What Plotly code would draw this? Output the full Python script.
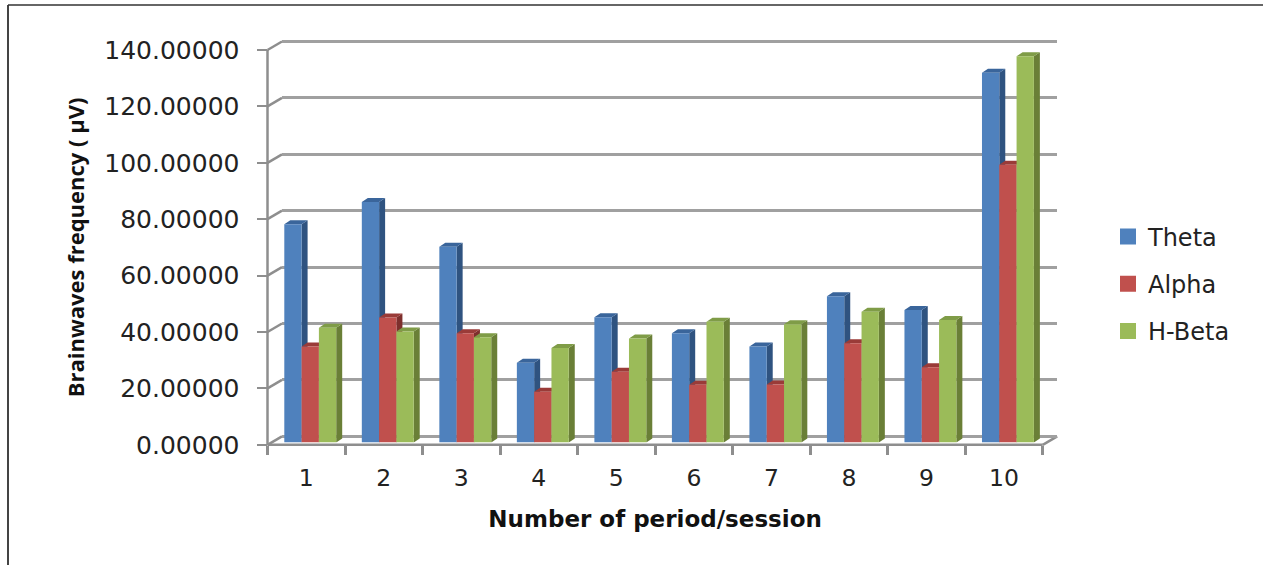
import plotly.graph_objects as go

W, H = 1263, 565
sessions = [1, 2, 3, 4, 5, 6, 7, 8, 9, 10]
theta = [77.4, 85.3, 69.4, 28.3, 44.4, 38.7, 34.0, 51.9, 47.0, 131.1]
alpha = [34.0, 44.3, 38.7, 18.0, 25.1, 20.5, 20.6, 35.2, 26.7, 98.5]
h_beta = [40.7, 39.4, 37.3, 33.5, 36.9, 42.8, 41.9, 46.4, 43.4, 137.0]
y_ticks = [0, 20, 40, 60, 80, 100, 120, 140]

# pixel geometry of the faux-3D box
XL, XR = 267.5, 1042.7      # front plane
Y0, Y140 = 444.8, 50.0
CAT = (XR - XL) / 10
UNIT = (Y0 - Y140) / 140
BAR_DX, BAR_DY = 3.0, 2.3   # bar plane behind front plane
BACK_DX, BACK_DY = 14.5, 8.5
DEPTH_DX, DEPTH_DY = 6.0, 4.0
BAR_W = 17.3 / CAT
BAR_START = 13.8 / CAT - 0.5
AXIS = "#8E8E8E"
TEXT = "#222222"
PAD = 2  # back-wall range padding, so the end gridlines are kept
M = 5    # frame subplot margin in px

def dom_x(dx):
    return [(XL + dx) / W, (XR + dx) / W]

def dom_y(dy, pad=0):
    return [1 - (Y0 - dy + pad * UNIT) / H, 1 - (Y140 - dy - pad * UNIT) / H]

series = [
    ("Theta", theta, "#4F81BD", "#2F5380", "#3A659B"),
    ("Alpha", alpha, "#C0504D", "#7E2F2D", "#9A3B38"),
    ("H-Beta", h_beta, "#9BBB59", "#6A7F37", "#7F9C47"),
]

fig = go.Figure()
ddx, ddy = DEPTH_DX / CAT, DEPTH_DY / UNIT

# front axis lines and connecting diagonals, on a wider frame subplot in front-plane units
dx_b, dy_b = BACK_DX / CAT, BACK_DY / UNIT
diag_x, diag_y = [0.5, 0.5, None, 0.5, 10.5, None], [0, 140, None, 0, 0, None]
for t in y_ticks:
    diag_x += [0.5, 0.5 + dx_b, None]
    diag_y += [t, t + dy_b, None]
diag_x += [10.5, 10.5 + dx_b, None]
diag_y += [0, dy_b, None]
fig.add_trace(go.Scatter(x=diag_x, y=diag_y, xaxis="x", yaxis="y", mode="lines",
                         line=dict(color=AXIS, width=2.5), showlegend=False, hoverinfo="skip"))

# back wall
fig.add_trace(go.Scatter(x=[None], y=[None], xaxis="x2", yaxis="y2", showlegend=False, hoverinfo="skip"))

z = 1
for i, (name, vals, front, side, top) in enumerate(series):
    off = BAR_START + i * BAR_W
    sx, sy, tx, ty = [], [], [], []
    for c, v in zip(sessions, vals):
        L, R = c + off, c + off + BAR_W
        sx += [R, R + ddx, R + ddx, R, R, None]
        sy += [0, ddy, v + ddy, v, 0, None]
        tx += [L, R, R + ddx, L + ddx, L, None]
        ty += [v, v, v + ddy, v + ddy, v, None]
    fig.add_trace(go.Scatter(x=sx, y=sy, xaxis="x3", yaxis="y3", mode="lines", fill="toself",
                             fillcolor=side, line=dict(width=0, color=side), showlegend=False,
                             hoverinfo="skip", zorder=z, cliponaxis=False))
    fig.add_trace(go.Scatter(x=tx, y=ty, xaxis="x3", yaxis="y3", mode="lines", fill="toself",
                             fillcolor=top, line=dict(width=0, color=top), showlegend=False,
                             hoverinfo="skip", zorder=z, cliponaxis=False))
    fig.add_trace(go.Bar(x=sessions, y=vals, name=name, xaxis="x3", yaxis="y3", width=BAR_W, offset=off,
                         marker=dict(color=front, line=dict(width=0)), zorder=z + 1, cliponaxis=False,
                         showlegend=False))
    # legend key, larger than the fixed key of a bar trace
    fig.add_trace(go.Scatter(x=[None], y=[None], name=name, xaxis="x3", yaxis="y3", mode="markers",
                             marker=dict(symbol="square", size=16, color=front), legendgroup=name))
    z += 2

# an empty trace keeps the front axes (tick labels, ticks, titles) on their own subplot
fig.add_trace(go.Scatter(x=[None], y=[None], xaxis="x4", yaxis="y4", showlegend=False, hoverinfo="skip"))

fig.update_layout(
    width=W, height=H, autosize=False,
    margin=dict(l=0, r=0, t=0, b=0, autoexpand=False),
    paper_bgcolor="white", plot_bgcolor="rgba(0,0,0,0)",
    barmode="overlay",
    font=dict(family="DejaVu Sans", color=TEXT),
    # frame subplot: same units as the front plane, wider domain
    xaxis=dict(domain=[(XL - M) / W, (XR + BACK_DX + M) / W],
               range=[0.5 - M / CAT, 10.5 + (BACK_DX + M) / CAT], visible=False, anchor="y"),
    yaxis=dict(domain=[1 - (Y0 + M) / H, 1 - (Y140 - BACK_DY - M) / H],
               range=[-M / UNIT, 140 + (BACK_DY + M) / UNIT], visible=False, anchor="x"),
    # back wall
    xaxis2=dict(domain=dom_x(BACK_DX), range=[0.5, 10.5], visible=False, anchor="y2"),
    yaxis2=dict(domain=dom_y(BACK_DY, PAD), range=[-PAD, 140 + PAD], anchor="x2", showgrid=True, gridcolor="#A0A0A0",
                gridwidth=2.5, tickvals=y_ticks, showticklabels=False, ticks="", zeroline=False, showline=False),
    # bar plane
    xaxis3=dict(domain=dom_x(BAR_DX), range=[0.5, 10.5], visible=False, anchor="y3"),
    yaxis3=dict(domain=dom_y(BAR_DY), range=[0, 140], visible=False, anchor="x3"),
    # front plane: the visible axes
    xaxis4=dict(domain=dom_x(0), range=[0.5, 10.5], anchor="y4", showgrid=False, zeroline=False,
                showline=False,
                tickmode="array", tickvals=sessions, ticktext=[str(s) for s in sessions],
                ticks="outside", ticklen=9, tickcolor="rgba(0,0,0,0)", ticklabelstandoff=3,
                tickfont=dict(size=23.5, color=TEXT),
                minor=dict(tickmode="array", tickvals=[s - 0.5 for s in sessions] + [10.5], ticks="outside",
                           ticklen=9, tickwidth=3, tickcolor=AXIS, showgrid=False),
                title=dict(text="<b>Number of period/session</b>", font=dict(size=23, color="#111111"), standoff=19)),
    yaxis4=dict(domain=dom_y(0), range=[0, 140], anchor="x4", showgrid=False, zeroline=False,
                showline=False,
                tickmode="array", tickvals=y_ticks, tickformat=".5f",
                ticks="outside", ticklen=10, tickwidth=2, tickcolor=AXIS, ticklabelstandoff=12,
                tickfont=dict(size=25, color=TEXT),
                title=dict(text="<b>Brainwaves frequency ( µV)</b>",
                           font=dict(family="Open Sans", size=22, color="#111111"), standoff=13)),
    legend=dict(x=1108 / W, xanchor="left", y=1 - 284 / H, yanchor="middle", tracegroupgap=13, itemsizing="trace",
                font=dict(size=24, color=TEXT), bgcolor="rgba(0,0,0,0)", itemclick=False, itemdoubleclick=False),
    shapes=[
        dict(type="line", xref="paper", yref="paper", x0=8 / W, x1=8 / W, y0=0, y1=1 - 5 / H,
             line=dict(color="#444444", width=2)),
        dict(type="line", xref="paper", yref="paper", x0=8 / W, x1=1, y0=1 - 5 / H, y1=1 - 5 / H,
             line=dict(color="#333333", width=1.5)),
    ],
)

fig.write_html("out.html", config={"responsive": False, "displayModeBar": False},
               post_script="document.body.style.margin='0';")
